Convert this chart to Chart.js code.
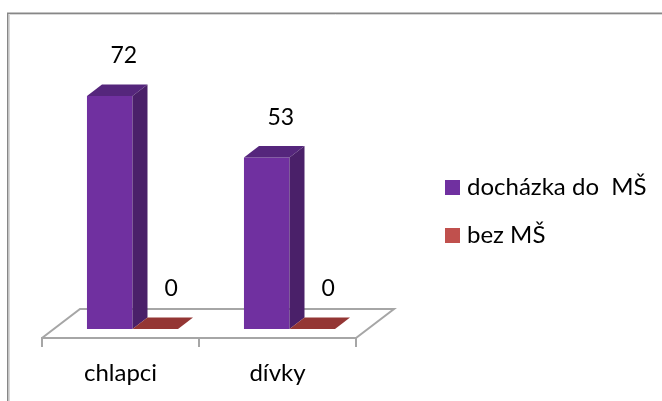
<!DOCTYPE html>
<html>
<head>
<meta charset="utf-8">
<style>html,body{margin:0;padding:0;background:#fff}#w{width:662px;height:401px;position:relative}canvas{display:block}</style>
<script src="https://cdn.jsdelivr.net/npm/chart.js@4"></script>
</head>
<body>
<div id="w"><canvas id="c" width="662" height="401"></canvas></div>
<script>
const categories = ["chlapci", "dívky"];
const seriesNames = ["docházka do  MŠ", "bez MŠ"];
const attendance = [72, 53];
const noAttendance = [0, 0];
const fontName = "Lato, Carlito, sans-serif";
const faces = [
  {side: "#4A2069", top: "#55267C"},
  {side: "#7D2E2C", top: "#943634"}
];
const depthX = 15, depthY = 11.5;
const planeX = 12, planeY = 9;
const floorX = 38, floorY = 29;
const labelShiftX = [14, 16];
const labelShiftY = 40;

const threeD = {
  id: "threeD",
  beforeLayout(chart) {
    const lg = chart.legend;
    if (!lg._fitWrapped) {
      const fit = lg.fit;
      lg.fit = function () { fit.call(this); this.width = 306; };
      lg._fitWrapped = true;
    }
  },
  afterLayout(chart) {
    chart.legend.left = 426;
    chart.legend.top = 151.5;
  },
  beforeDraw(chart) {
    const c = chart.ctx;
    c.save();
    c.fillStyle = "#fff";
    c.fillRect(0, 0, chart.width, chart.height);
    c.strokeStyle = "#D8D8D8";
    c.lineWidth = 1;
    c.beginPath();
    c.moveTo(9.5, 401); c.lineTo(9.5, 14.5); c.lineTo(662, 14.5);
    c.stroke();
    c.strokeStyle = "#878787";
    c.lineWidth = 1.5;
    c.beginPath();
    c.moveTo(7.75, 401); c.lineTo(7.75, 13.25); c.lineTo(662, 13.25);
    c.stroke();
    c.restore();
  },
  beforeDatasetsDraw(chart) {
    const c = chart.ctx, a = chart.chartArea;
    c.save();
    c.strokeStyle = "#A6A6A6";
    c.lineWidth = 2;
    c.beginPath();
    c.moveTo(a.left, a.bottom);
    c.lineTo(a.left + floorX, a.bottom - floorY);
    c.lineTo(a.right + floorX, a.bottom - floorY);
    c.lineTo(a.right, a.bottom);
    c.stroke();
    c.restore();
    c.save();
    c.translate(planeX, -planeY);
  },
  afterDatasetsDraw(chart) {
    const c = chart.ctx;
    chart.data.datasets.forEach((ds, di) => {
      chart.getDatasetMeta(di).data.forEach(el => {
        const l = el.x - el.width / 2, r = el.x + el.width / 2, t = el.y, b = el.base;
        c.fillStyle = faces[di].top;
        c.beginPath();
        c.moveTo(l, t); c.lineTo(l + depthX, t - depthY);
        c.lineTo(r + depthX, t - depthY); c.lineTo(r, t);
        c.closePath(); c.fill();
        if (b > t) {
          c.fillStyle = faces[di].side;
          c.beginPath();
          c.moveTo(r, t); c.lineTo(r + depthX, t - depthY);
          c.lineTo(r + depthX, b - depthY); c.lineTo(r, b);
          c.closePath(); c.fill();
        }
      });
    });
    c.restore();
    c.save();
    c.fillStyle = "#000";
    c.font = "23px " + fontName;
    c.textAlign = "center";
    c.textBaseline = "middle";
    chart.data.datasets.forEach((ds, di) => {
      chart.getDatasetMeta(di).data.forEach((el, i) => {
        c.fillText(String(ds.data[i]), el.x + planeX + labelShiftX[di], el.y - planeY - labelShiftY);
      });
    });
    c.restore();
  }
};

new Chart(document.getElementById("c"), {
  type: "bar",
  data: {
    labels: categories,
    datasets: [
      {label: seriesNames[0], data: attendance, backgroundColor: "#7030A0", borderWidth: 0},
      {label: seriesNames[1], data: noAttendance, backgroundColor: "#C0504D", borderWidth: 0}
    ]
  },
  options: {
    responsive: false,
    animation: false,
    devicePixelRatio: 1,
    layout: {padding: {left: 42, right: 0, top: 14.4, bottom: 0}},
    datasets: {bar: {barPercentage: 1, categoryPercentage: 0.58}},
    scales: {
      x: {
        afterFit: s => { s.height = 63; },
        grid: {drawOnChartArea: false, color: "#A6A6A6", lineWidth: 2, tickLength: 9},
        border: {display: true, color: "#A6A6A6", width: 2},
        ticks: {color: "#000", font: {family: fontName, size: 24}, padding: 11.5, maxRotation: 0}
      },
      y: {display: false, min: 0, max: 100}
    },
    plugins: {
      tooltip: {enabled: false},
      legend: {
        position: "right",
        align: "start",
        labels: {
          usePointStyle: true,
          pointStyle: "rect",
          boxWidth: 5,
          boxHeight: 15,
          padding: 24,
          color: "#000",
          font: {family: fontName, size: 24}
        }
      }
    }
  },
  plugins: [threeD]
});
</script>
</body>
</html>
